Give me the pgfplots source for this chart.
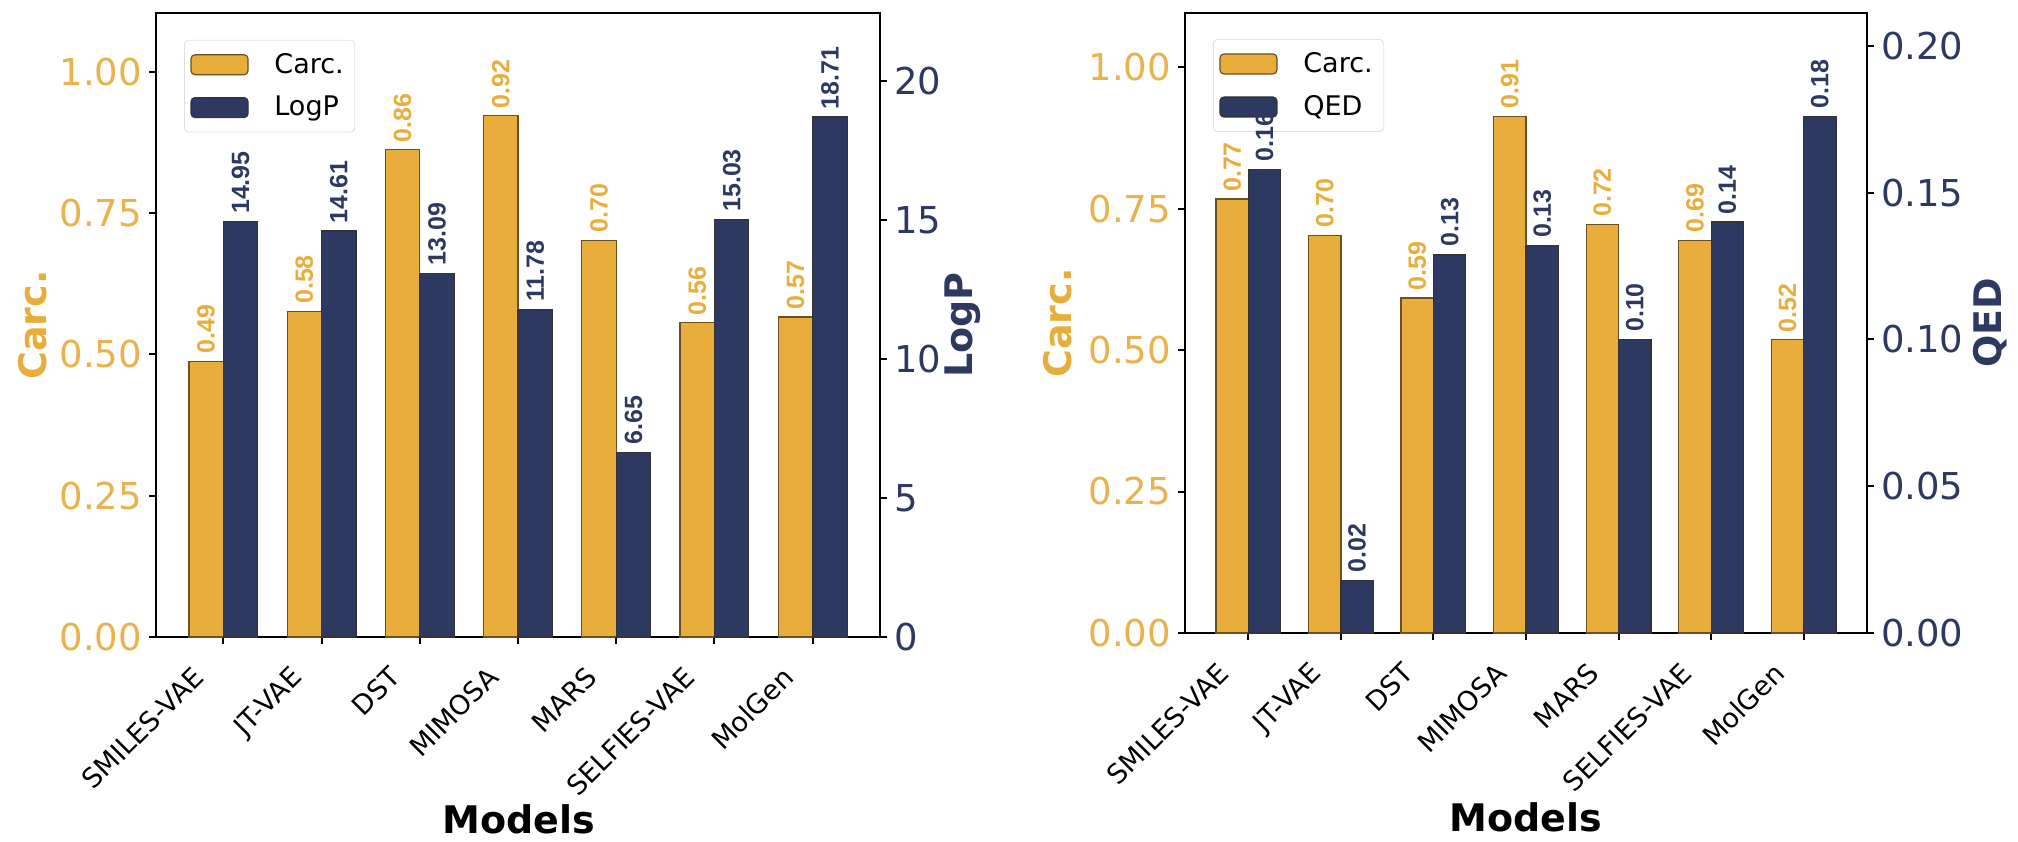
\documentclass[border=0pt]{standalone}
\usepackage{fontspec}
\setmainfont{DejaVu Sans}
\newfontfamily\valfont{Liberation Sans}
\usepackage{pgfplots}
\usepackage{pgfplotstable}
\pgfplotsset{compat=1.18}

\definecolor{carc}{HTML}{E8AD3A}
\definecolor{carctick}{HTML}{EAB24C}
\definecolor{navy}{HTML}{2E3962}
\definecolor{carcedge}{HTML}{6A5025}

% Carcinogenicity vs. LogP per model
\pgfplotstableread{
model carc logp
SMILES-VAE 0.488 14.95
JT-VAE 0.576 14.61
DST 0.862 13.09
MIMOSA 0.922 11.78
MARS 0.702 6.65
SELFIES-VAE 0.556 15.03
MolGen 0.566 18.71
}\logpdata

% Carcinogenicity vs. QED per model
\pgfplotstableread{
model carc qed
SMILES-VAE 0.767 0.158
JT-VAE 0.703 0.018
DST 0.592 0.129
MIMOSA 0.913 0.132
MARS 0.722 0.100
SELFIES-VAE 0.694 0.140
MolGen 0.518 0.176
}\qeddata

\newcommand\legfont{\fontsize{13.5}{15}\selectfont}

\pgfplotsset{
  base/.style={
    scale only axis, clip=false,
    xmin=-0.685, xmax=6.685, ymin=0,
    ybar, bar width=0.35, bar shift=0pt,
    axis line style={line width=1.2pt},
    tick align=outside, major tick length=3.5pt,
    every tick/.style={black, line width=1pt},
    /pgf/number format/assume math mode=true,
    nodes near coords={\pgfmathprintnumber[fixed,fixed zerofill,precision=2,assume math mode=true]{\pgfplotspointmeta}},
    every node near coord/.append style={rotate=90, anchor=west, inner xsep=3.5pt, inner ysep=0pt,
      font=\valfont\bfseries\fontsize{12.5}{12.5}\selectfont},
  },
  leftaxis/.style={
    base, xtick pos=left, ytick pos=left,
    ytick={0,0.25,0.5,0.75,1},
    yticklabel style={font=\fontsize{18.5}{18.5}\selectfont, color=carctick,
      /pgf/number format/.cd, fixed, fixed zerofill, precision=2},
    xtick={0,...,6},
    xticklabels={SMILES-VAE,JT-VAE,DST,MIMOSA,MARS,SELFIES-VAE,MolGen},
    xticklabel style={xshift=-16pt, yshift=-5.5pt, rotate=45, anchor=north east,
      font=\fontsize{13.5}{13.5}\selectfont},
    xlabel={Models},
    ylabel={Carc.},
    legend cell align=left,
    legend style={anchor=north west, draw=black!12, fill=white,
      rounded corners=2pt, inner xsep=3pt, inner ysep=4pt,
      nodes={inner sep=2.5pt}, row sep=5pt},
  },
  rightaxis/.style={
    base, axis y line*=right, axis x line=none, xtick=\empty,
    yticklabel style={font=\fontsize{18.5}{18.5}\selectfont, color=navy},
  },
  carcbars/.style={fill=carc, draw=carcedge, line width=0.6pt,
    every node near coord/.append style={color=carc}},
  navybars/.style={fill=navy, draw=black!80, line width=0.6pt,
    every node near coord/.append style={color=navy}},
  carcpatch/.style={legend image code/.code={%
    \draw[fill=carc, draw=carcedge, line width=0.6pt] (0pt,-5pt) rectangle (28.5pt,5pt);
    \path (39pt,0pt);}},
  navypatch/.style={legend image code/.code={%
    \draw[fill=navy, draw=black!80, line width=0.6pt] (0pt,-5pt) rectangle (28.5pt,5pt);
    \path (39pt,0pt);}},
}

\begin{document}
\begin{tikzpicture}
\useasboundingbox (0pt,0pt) rectangle (1009pt,420.5pt);

% ---- left panel: Carc. and LogP ----
\begin{axis}[leftaxis, at={(78pt,102pt)}, anchor=south west, width=362pt, height=312pt,
  ymax=1.104,
  xlabel style={at={(axis description cs:0.501,-0.292)}, anchor=center, font=\bfseries\fontsize{19}{19}\selectfont},
  ylabel style={at={(axis description cs:-0.171,0.5)}, anchor=center, color=carc, font=\bfseries\fontsize{19}{19}\selectfont},
  legend style={at={(axis description cs:0.0387,0.957)}},
]
\addlegendimage{carcpatch}
\addlegendentry{\legfont Carc.}
\addlegendimage{navypatch}
\addlegendentry{\legfont LogP}
\addplot[carcbars, forget plot] table[x expr=\coordindex-0.175, y=carc] {\logpdata};
\end{axis}

\begin{axis}[rightaxis, at={(78pt,102pt)}, anchor=south west, width=362pt, height=312pt,
  ymax=22.452, ytick={0,5,10,15,20},
  ylabel={LogP},
  ylabel style={at={(axis description cs:1.1146,0.5)}, anchor=center, color=navy, font=\bfseries\fontsize{19}{19}\selectfont},
]
\addplot[navybars] table[x expr=\coordindex+0.175, y=logp] {\logpdata};
\end{axis}

% ---- right panel: Carc. and QED ----
\begin{axis}[leftaxis, at={(592.5pt,104pt)}, anchor=south west, width=341pt, height=310pt,
  ymax=1.0956,
  xlabel style={at={(axis description cs:0.5,-0.297)}, anchor=center, font=\bfseries\fontsize{19}{19}\selectfont},
  ylabel style={at={(axis description cs:-0.186,0.5)}, anchor=center, color=carc, font=\bfseries\fontsize{19}{19}\selectfont},
  legend style={at={(axis description cs:0.041,0.958)}},
]
\addlegendimage{carcpatch}
\addlegendentry{\legfont Carc.}
\addlegendimage{navypatch}
\addlegendentry{\legfont QED}
\addplot[carcbars, forget plot] table[x expr=\coordindex-0.175, y=carc] {\qeddata};
\end{axis}

\begin{axis}[rightaxis, at={(592.5pt,104pt)}, anchor=south west, width=341pt, height=310pt,
  ymax=0.2112, ytick={0,0.05,0.1,0.15,0.2},
  yticklabel style={/pgf/number format/.cd, fixed, fixed zerofill, precision=2},
  ylabel={QED},
  ylabel style={at={(axis description cs:1.180,0.5)}, anchor=center, color=navy, font=\bfseries\fontsize{19}{19}\selectfont},
]
\addplot[navybars] table[x expr=\coordindex+0.175, y=qed] {\qeddata};
\end{axis}
\end{tikzpicture}
\end{document}
